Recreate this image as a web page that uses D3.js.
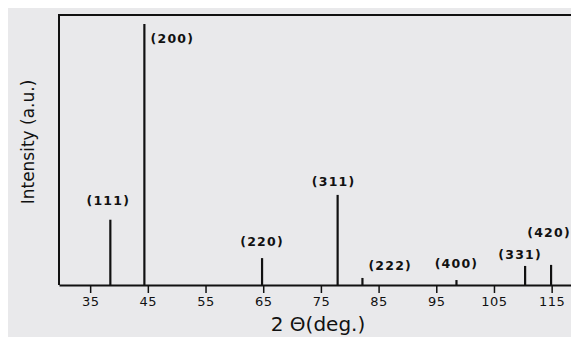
<!DOCTYPE html>
<html>
<head>
<meta charset="utf-8">
<script src="https://cdn.jsdelivr.net/npm/d3@7"></script>
<style>
  body { margin: 0; background: #fff; }
</style>
</head>
<body>
<script>
// peak data (Al XRD pattern)
var peakLabels = ["(111)", "(200)", "(220)", "(311)", "(222)", "(400)", "(331)", "(420)"];
var peakAngles = [38.5, 44.4, 64.8, 77.9, 82.2, 98.5, 110.4, 114.9];
var peakIntensity = [25, 100, 10.3, 34.5, 2.7, 1.9, 7.3, 7.7];
var xTicks = [35, 45, 55, 65, 75, 85, 95, 105, 115];

var W = 571, H = 337;
var margin = {top: 15, left: 59, bottom: 285};

var svg = d3.select("body").append("svg")
    .attr("width", W)
    .attr("height", H);

// grey paper background
svg.append("rect")
    .attr("x", 8).attr("y", 8)
    .attr("width", W - 8).attr("height", H - 8)
    .attr("fill", "#e9e9eb");

var x = d3.scaleLinear().domain([29.6, 118.7]).range([margin.left, W + 2]);
var y = d3.scaleLinear().domain([0, 103.4]).range([margin.bottom, margin.top]);

// frame: top and left
svg.append("path")
    .attr("d", "M" + (W + 2) + "," + margin.top + "H" + margin.left + "V" + margin.bottom)
    .attr("fill", "none")
    .attr("stroke", "#111")
    .attr("stroke-width", 2);

// bottom axis
var xAxis = svg.append("g")
    .attr("transform", "translate(0," + margin.bottom + ")")
    .call(d3.axisBottom(x).tickValues(xTicks).tickSize(8).tickPadding(4).tickSizeOuter(0));
xAxis.select(".domain").attr("stroke", "#111").attr("stroke-width", 2.2);
xAxis.selectAll(".tick line").attr("stroke", "#111").attr("stroke-width", 1.5);
xAxis.selectAll(".tick text")
    .attr("fill", "#111")
    .style("font-family", "DejaVu Sans")
    .style("font-size", "13px")
    .style("letter-spacing", "0.5px");

// peaks
var peaks = peakAngles.map(function(a, i) {
    return {angle: a, value: peakIntensity[i], label: peakLabels[i]};
});

svg.selectAll(".peak")
    .data(peaks)
    .enter().append("line")
    .attr("class", "peak")
    .attr("x1", function(d) { return x(d.angle); })
    .attr("x2", function(d) { return x(d.angle); })
    .attr("y1", y(0))
    .attr("y2", function(d) { return y(d.value); })
    .attr("stroke", "#111")
    .attr("stroke-width", 2.2);

// peak labels
var labelPos = [
    {dx: -2, y: 205},
    {dx: 28, y: 43},
    {dx: 0, y: 246},
    {dx: -4, y: 186},
    {dx: 6, y: 270},
    {dx: 0, y: 268},
    {dx: -5, y: 259},
    {dx: -2, y: 237}
];
svg.selectAll(".plabel")
    .data(peaks)
    .enter().append("text")
    .attr("class", "plabel")
    .attr("x", function(d, i) { return x(d.angle) + labelPos[i].dx; })
    .attr("y", function(d, i) { return labelPos[i].y; })
    .attr("text-anchor", function(d, i) { return i == 4 ? "start" : "middle"; })
    .style("font-family", "DejaVu Sans")
    .style("font-weight", "bold")
    .style("font-size", "12.5px")
    .style("letter-spacing", "1.2px")
    .attr("fill", "#111")
    .text(function(d) { return d.label; });

// axis titles
svg.append("text")
    .attr("x", 318)
    .attr("y", 331)
    .attr("text-anchor", "middle")
    .style("font-family", "DejaVu Sans")
    .style("font-size", "20px")
    .attr("fill", "#111")
    .text("2 \u0398(deg.)");

svg.append("text")
    .attr("transform", "translate(34,142) rotate(-90)")
    .attr("text-anchor", "middle")
    .style("font-family", "DejaVu Sans")
    .style("font-size", "17px")
    .attr("fill", "#111")
    .text("Intensity (a.u.)");
</script>
</body>
</html>
